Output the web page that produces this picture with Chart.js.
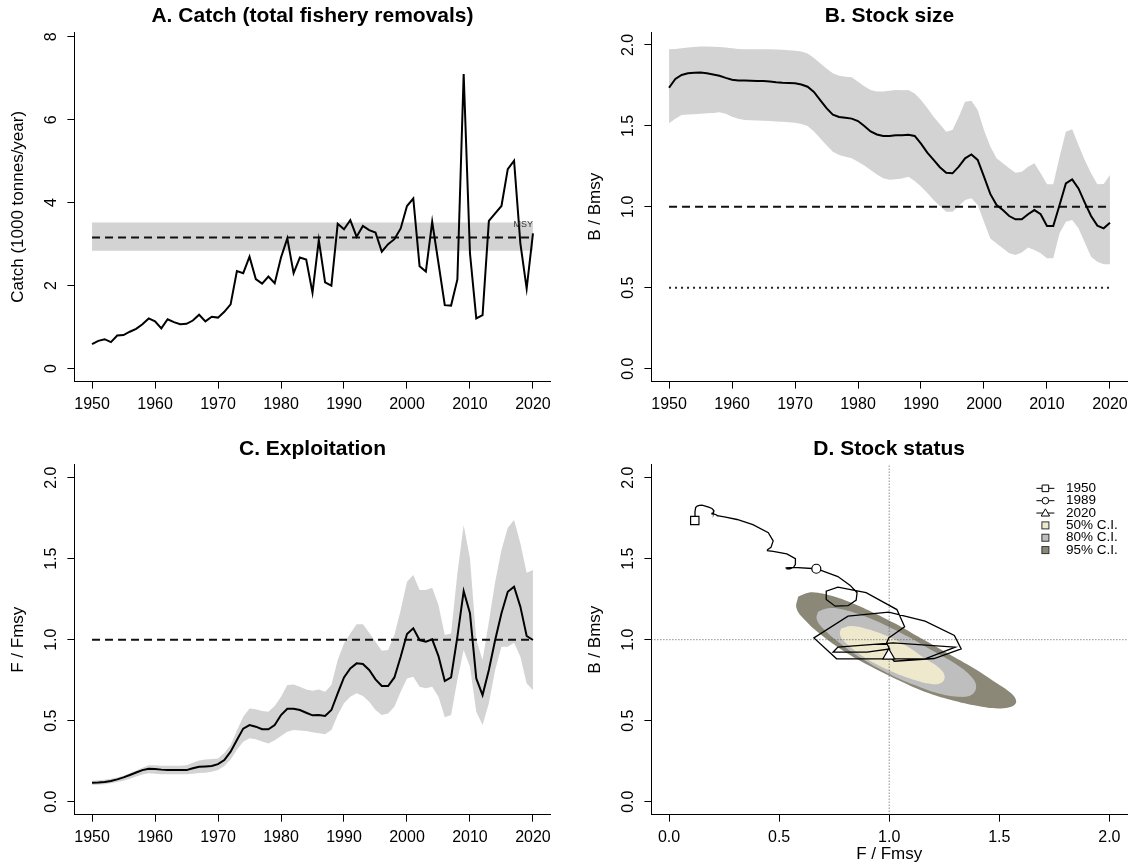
<!DOCTYPE html>
<html>
<head>
<meta charset="utf-8">
<title>Stock assessment summary</title>
<script src="https://cdn.jsdelivr.net/npm/chart.js@4.4.1/dist/chart.umd.min.js"></script>
<style>
  html, body { margin: 0; padding: 0; background: #fff; }
  #wrap { position: relative; width: 1135px; height: 864px; overflow: hidden; }
  #wrap canvas { position: absolute; }
</style>
</head>
<body>
<div id="wrap">
  <canvas id="panelA" width="567" height="432" style="left:0;top:0"></canvas>
  <canvas id="panelB" width="568" height="432" style="left:567px;top:0"></canvas>
  <canvas id="panelC" width="567" height="432" style="left:0;top:432px"></canvas>
  <canvas id="panelD" width="568" height="432" style="left:567px;top:432px"></canvas>
</div>
<script>
// ---------------- data ----------------
const years = [
  1950, 1951, 1952, 1953, 1954, 1955, 1956, 1957, 1958, 1959,
  1960, 1961, 1962, 1963, 1964, 1965, 1966, 1967, 1968, 1969,
  1970, 1971, 1972, 1973, 1974, 1975, 1976, 1977, 1978, 1979,
  1980, 1981, 1982, 1983, 1984, 1985, 1986, 1987, 1988, 1989,
  1990, 1991, 1992, 1993, 1994, 1995, 1996, 1997, 1998, 1999,
  2000, 2001, 2002, 2003, 2004, 2005, 2006, 2007, 2008, 2009,
  2010, 2011, 2012, 2013, 2014, 2015, 2016, 2017, 2018, 2019,
  2020
];

// total removals, 1000 tonnes per year
const catchK = [
  0.59, 0.67, 0.71, 0.64, 0.80, 0.81, 0.89, 0.96, 1.07, 1.21,
  1.14, 0.97, 1.19, 1.12, 1.07, 1.08, 1.16, 1.30, 1.14, 1.25,
  1.23, 1.37, 1.55, 2.35, 2.30, 2.70, 2.16, 2.05, 2.22, 2.06,
  2.68, 3.14, 2.30, 2.68, 2.63, 1.83, 3.10, 2.08, 2.00, 3.49,
  3.36, 3.58, 3.18, 3.44, 3.34, 3.28, 2.82, 3.00, 3.12, 3.38,
  3.92, 4.10, 2.47, 2.34, 3.54, 2.54, 1.53, 1.52, 2.15, 7.10,
  2.78, 1.21, 1.29, 3.56, 3.74, 3.92, 4.81, 5.01, 3.02, 1.93,
  3.26
];

// MSY estimate with its range (1000 t)
const msy = 3.16;
const msyLow = 2.84;
const msyHigh = 3.52;

// relative biomass B/Bmsy: median and interval bounds
const bRatio = [
  1.736, 1.790, 1.815, 1.825, 1.829, 1.830, 1.825, 1.818, 1.810, 1.797,
  1.785, 1.781, 1.780, 1.779, 1.778, 1.777, 1.775, 1.770, 1.767, 1.765,
  1.763, 1.756, 1.742, 1.710, 1.660, 1.610, 1.570, 1.555, 1.550, 1.545,
  1.530, 1.500, 1.466, 1.447, 1.438, 1.438, 1.442, 1.443, 1.446, 1.438,
  1.390, 1.335, 1.290, 1.245, 1.210, 1.207, 1.248, 1.300, 1.324, 1.290,
  1.186, 1.080, 1.011, 0.980, 0.943, 0.923, 0.923, 0.954, 0.980, 0.954,
  0.882, 0.882, 1.011, 1.145, 1.170, 1.114, 1.026, 0.943, 0.884, 0.867,
  0.902
];
const bRatioHigh = [
  1.973, 1.975, 1.980, 1.985, 1.988, 1.990, 1.990, 1.989, 1.988, 1.985,
  1.980, 1.976, 1.973, 1.974, 1.973, 1.974, 1.973, 1.972, 1.970, 1.968,
  1.965, 1.960, 1.948, 1.920, 1.887, 1.855, 1.825, 1.810, 1.804, 1.800,
  1.773, 1.745, 1.722, 1.712, 1.712, 1.718, 1.722, 1.720, 1.722, 1.700,
  1.660, 1.610, 1.557, 1.510, 1.464, 1.475, 1.557, 1.650, 1.656, 1.598,
  1.475, 1.372, 1.300, 1.269, 1.238, 1.211, 1.217, 1.248, 1.269, 1.207,
  1.139, 1.139, 1.310, 1.464, 1.479, 1.382, 1.289, 1.207, 1.139, 1.141,
  1.197
];
const bRatioLow = [
  1.516, 1.545, 1.567, 1.570, 1.572, 1.575, 1.578, 1.580, 1.584, 1.575,
  1.557, 1.545, 1.537, 1.535, 1.533, 1.532, 1.530, 1.527, 1.525, 1.522,
  1.520, 1.512, 1.500, 1.465, 1.423, 1.380, 1.341, 1.320, 1.310, 1.300,
  1.279, 1.255, 1.228, 1.200, 1.176, 1.168, 1.170, 1.175, 1.186, 1.160,
  1.125, 1.085, 1.042, 1.005, 0.970, 0.970, 1.005, 1.042, 1.053, 1.011,
  0.908, 0.805, 0.774, 0.744, 0.713, 0.702, 0.717, 0.748, 0.733, 0.713,
  0.682, 0.682, 0.836, 0.908, 0.919, 0.867, 0.779, 0.692, 0.661, 0.645,
  0.645
];

// relative exploitation F/Fmsy: median and interval bounds
const fRatio = [
  0.117, 0.118, 0.121, 0.128, 0.138, 0.150, 0.165, 0.180, 0.195, 0.204,
  0.202, 0.198, 0.195, 0.195, 0.195, 0.195, 0.206, 0.216, 0.218, 0.220,
  0.232, 0.257, 0.309, 0.381, 0.451, 0.473, 0.463, 0.447, 0.447, 0.473,
  0.535, 0.574, 0.574, 0.566, 0.549, 0.533, 0.535, 0.529, 0.566, 0.669,
  0.767, 0.823, 0.854, 0.850, 0.813, 0.755, 0.714, 0.714, 0.767, 0.895,
  1.035, 1.070, 0.998, 0.988, 1.002, 0.899, 0.745, 0.767, 1.018, 1.300,
  1.163, 0.761, 0.658, 0.813, 0.998, 1.163, 1.296, 1.327, 1.204, 1.023,
  0.998
];
const fRatioHigh = [
  0.130, 0.132, 0.135, 0.142, 0.150, 0.160, 0.175, 0.192, 0.210, 0.225,
  0.225, 0.222, 0.222, 0.222, 0.222, 0.225, 0.240, 0.255, 0.261, 0.263,
  0.267, 0.300, 0.350, 0.440, 0.525, 0.576, 0.570, 0.560, 0.556, 0.590,
  0.648, 0.720, 0.724, 0.710, 0.693, 0.685, 0.693, 0.679, 0.720, 0.874,
  0.977, 1.039, 1.095, 1.095, 1.043, 0.988, 0.932, 0.936, 1.029, 1.183,
  1.358, 1.399, 1.307, 1.307, 1.321, 1.214, 1.029, 1.039, 1.410, 1.708,
  1.502, 0.998, 0.874, 1.111, 1.358, 1.553, 1.691, 1.739, 1.595, 1.414,
  1.430
];
const fRatioLow = [
  0.103, 0.105, 0.108, 0.114, 0.122, 0.130, 0.142, 0.155, 0.168, 0.175,
  0.172, 0.170, 0.169, 0.169, 0.169, 0.169, 0.172, 0.177, 0.179, 0.185,
  0.195, 0.220, 0.261, 0.320, 0.370, 0.391, 0.385, 0.372, 0.360, 0.380,
  0.405, 0.432, 0.442, 0.440, 0.436, 0.428, 0.422, 0.416, 0.442, 0.535,
  0.607, 0.648, 0.669, 0.652, 0.617, 0.566, 0.535, 0.545, 0.586, 0.679,
  0.761, 0.772, 0.710, 0.700, 0.710, 0.648, 0.521, 0.535, 0.751, 0.936,
  0.833, 0.556, 0.473, 0.607, 0.813, 0.957, 0.957, 0.981, 0.895, 0.730,
  0.689
];

// reference levels
const bmsyLevel = 1.0;
const halfBmsyLevel = 0.5;
const fmsyLevel = 1.0;

// confidence regions of the final-year status (outline vertices, F/Fmsy vs B/Bmsy)
const ci95F = [0.586, 0.632, 0.677, 0.753, 0.828, 0.919, 1.025, 1.131, 1.252, 1.373, 1.478, 1.554,
               1.577, 1.554, 1.494, 1.403, 1.282, 1.161, 1.040, 0.919, 0.798, 0.692, 0.617, 0.579];
const ci95B = [1.265, 1.290, 1.290, 1.265, 1.228, 1.173, 1.101, 1.019, 0.926, 0.833, 0.741, 0.669,
               0.617, 0.586, 0.576, 0.591, 0.628, 0.679, 0.751, 0.833, 0.926, 1.029, 1.122, 1.194];
const ci80F = [0.677, 0.723, 0.783, 0.874, 0.980, 1.085, 1.191, 1.297, 1.373, 1.395,
               1.373, 1.312, 1.221, 1.116, 0.995, 0.874, 0.768, 0.692, 0.670];
const ci80B = [1.173, 1.194, 1.188, 1.152, 1.091, 1.019, 0.936, 0.854, 0.772, 0.710,
               0.659, 0.648, 0.669, 0.720, 0.792, 0.885, 0.988, 1.080, 1.132];
const ci50F = [0.783, 0.828, 0.904, 0.995, 1.085, 1.161, 1.229, 1.252,
               1.237, 1.191, 1.116, 1.025, 0.934, 0.851, 0.790, 0.776];
const ci50B = [1.070, 1.085, 1.064, 1.019, 0.957, 0.885, 0.823, 0.772,
               0.735, 0.727, 0.751, 0.796, 0.854, 0.926, 0.998, 1.039];

// highlighted years on the status trajectory and legend entries
const markedYears = [1950, 1989, 2020];
const ciLabels = ['50% C.I.', '80% C.I.', '95% C.I.'];

// axis ticks
const yearTicks = [1950, 1960, 1970, 1980, 1990, 2000, 2010, 2020];
const yearTickLabels = ['1950', '1960', '1970', '1980', '1990', '2000', '2010', '2020'];
const catchTicks = [0, 2, 4, 6, 8];
const catchTickLabels = ['0', '2', '4', '6', '8'];
const ratioTicks = [0, 0.5, 1, 1.5, 2];
const ratioTickLabels = ['0.0', '0.5', '1.0', '1.5', '2.0'];

// ---------------- styling ----------------
const FONT = "'Liberation Sans', Arial, Helvetica, sans-serif";
const INK = '#000';
const BAND = '#d3d3d3';
const CI_COLORS = ['#eee8cd', '#bebebe', '#8b8878'];   // 50 / 80 / 95 %
const TITLE_PX = 21;
const LABEL_PX = 17;
const TICK_PX = 16;

const measureCtx = document.createElement('canvas').getContext('2d');
function textWidth(s, px) { measureCtx.font = px + 'px ' + FONT; return measureCtx.measureText(s).width; }

function pts(xs, ys) { return xs.map((x, i) => ({ x: x, y: ys[i] })); }
function closed(a) { return a.concat([a[0]]); }
function yearSpan(v) { return pts([years[0], years[years.length - 1]], [v, v]); }

function line(data, extra) {
  return Object.assign({
    data: data, borderColor: INK, borderWidth: 2, pointRadius: 0,
    fill: false, tension: 0, order: 1
  }, extra || {});
}

function axisX(o) {
  return {
    type: 'linear', position: 'bottom', min: o.min, max: o.max,
    afterBuildTicks: s => { s.ticks = o.ticks.map(v => ({ value: v })); },
    afterFit: s => { s.height = o.height; },
    ticks: {
      autoSkip: false, minRotation: 0, maxRotation: 0, padding: 6.5, color: INK,
      font: { family: FONT, size: TICK_PX },
      callback: v => o.labels[o.ticks.indexOf(v)]
    },
    grid: { drawOnChartArea: false, drawTicks: true, tickLength: 7, color: INK, lineWidth: 1 },
    border: { display: true, color: INK, width: 1 },
    title: o.title ? {
      display: true, text: o.title, color: INK,
      font: { family: FONT, size: LABEL_PX, lineHeight: 1 }, padding: { top: 0, bottom: 1.5 }
    } : { display: false }
  };
}

function axisY(o) {
  const widest = Math.max.apply(null, o.labels.map(s => textWidth(s, TICK_PX)));
  return {
    type: 'linear', position: 'left', min: o.min, max: o.max,
    afterBuildTicks: s => { s.ticks = o.ticks.map(v => ({ value: v })); },
    afterFit: s => { s.width = o.width; },
    ticks: {
      autoSkip: false, minRotation: 90, maxRotation: 90, crossAlign: 'center',
      padding: 15.5 - widest / 2, color: INK, font: { family: FONT, size: TICK_PX },
      callback: v => o.labels[o.ticks.indexOf(v)]
    },
    grid: { drawOnChartArea: false, drawTicks: true, tickLength: 7, color: INK, lineWidth: 1 },
    border: { display: true, color: INK, width: 1 },
    title: {
      display: true, text: o.title, color: INK,
      font: { family: FONT, size: LABEL_PX, lineHeight: 1.2 }, padding: { top: o.titlePad, bottom: 0 }
    }
  };
}

function panel(id, o) {
  return new Chart(document.getElementById(id), {
    type: 'line',
    data: { datasets: o.datasets },
    options: {
      responsive: false, animation: false, devicePixelRatio: 1, events: [],
      layout: { padding: { left: 0, right: o.padRight, top: 0, bottom: 0 } },
      plugins: {
        legend: { display: false },
        tooltip: { enabled: false },
        title: {
          display: true, text: o.title, fullSize: false, color: INK,
          font: { family: FONT, size: TITLE_PX, weight: 'bold', lineHeight: 1 },
          padding: { top: o.titleTop, bottom: o.titleBottom }
        }
      },
      scales: { x: o.x, y: o.y }
    },
    plugins: o.plugins || []
  });
}

// small "MSY" tag at the end of the MSY band
const msyTag = {
  id: 'msyTag',
  afterDatasetsDraw(chart) {
    const { ctx, scales: { x, y } } = chart;
    ctx.save();
    ctx.font = '9px ' + FONT;
    ctx.fillStyle = '#333';
    ctx.textAlign = 'right';
    ctx.textBaseline = 'middle';
    ctx.fillText('MSY', x.getPixelForValue(years[years.length - 1]), y.getPixelForValue(msyHigh) + 2);
    ctx.restore();
  }
};

// legend of the status panel
function drawMarker(ctx, shape, x, y, r) {
  ctx.beginPath();
  if (shape === 'rect') {
    ctx.rect(x - r, y - r, 2 * r, 2 * r);
  } else if (shape === 'circle') {
    ctx.arc(x, y, r, 0, Math.PI * 2);
  } else {
    ctx.moveTo(x, y - r * 1.05);
    ctx.lineTo(x + r * 1.05, y + r * 0.75);
    ctx.lineTo(x - r * 1.05, y + r * 0.75);
    ctx.closePath();
  }
  ctx.fillStyle = '#fff';
  ctx.fill();
  ctx.stroke();
}
const statusLegend = {
  id: 'statusLegend',
  afterDraw(chart) {
    const { ctx, chartArea: a } = chart;
    const sx = a.right - 81.6, tx = a.right - 61, y0 = a.top + 23.6, dy = 12.35;
    const shapes = ['rect', 'circle', 'triangle'];
    ctx.save();
    ctx.font = '13.5px ' + FONT;
    ctx.textAlign = 'left';
    ctx.textBaseline = 'middle';
    ctx.strokeStyle = INK;
    ctx.lineWidth = 1;
    markedYears.forEach((yr, i) => {
      const y = y0 + i * dy;
      ctx.beginPath(); ctx.moveTo(sx - 9, y); ctx.lineTo(sx + 9, y); ctx.stroke();
      drawMarker(ctx, shapes[i], sx, y, i === 2 ? 4 : 3.3);
      ctx.fillStyle = INK;
      ctx.fillText(String(yr), tx, y);
    });
    ciLabels.forEach((lab, i) => {
      const y = y0 + (i + 3) * dy;
      ctx.fillStyle = CI_COLORS[i];
      ctx.strokeStyle = '#333';
      ctx.fillRect(sx - 3.5, y - 3.5, 7, 7);
      ctx.strokeRect(sx - 3.5, y - 3.5, 7, 7);
      ctx.fillStyle = INK;
      ctx.fillText(lab, tx, y);
    });
    ctx.restore();
  }
};

// ---------------- A. Catch ----------------
panel('panelA', {
  title: 'A. Catch (total fishery removals)', titleTop: 5.5, titleBottom: 5.55, padRight: 16.4,
  x: axisX({ min: 1947.2, max: 2022.8, ticks: yearTicks, labels: yearTickLabels, height: 50.4 }),
  y: axisY({ min: -0.312, max: 8.112, ticks: catchTicks, labels: catchTickLabels, width: 74.4,
             title: 'Catch (1000 tonnes/year)', titlePad: 8.2 }),
  datasets: [
    line(yearSpan(msyHigh), { borderWidth: 0, borderColor: 'transparent', fill: '+1', backgroundColor: BAND, order: 10 }),
    line(yearSpan(msyLow), { borderWidth: 0, borderColor: 'transparent', order: 9 }),
    line(yearSpan(msy), { borderDash: [8, 5], borderColor: '#111', order: 3 }),
    line(pts(years, catchK), { order: 1 })
  ],
  plugins: [msyTag]
});

// ---------------- B. Stock size ----------------
panel('panelB', {
  title: 'B. Stock size', titleTop: 5.5, titleBottom: 5.55, padRight: 7.4,
  x: axisX({ min: 1947.2, max: 2022.8, ticks: yearTicks, labels: yearTickLabels, height: 50.4 }),
  y: axisY({ min: -0.08, max: 2.08, ticks: ratioTicks, labels: ratioTickLabels, width: 84.4,
             title: 'B / Bmsy', titlePad: 18.2 }),
  datasets: [
    line(pts(years, bRatioHigh), { borderWidth: 0, borderColor: 'transparent', fill: '+1', backgroundColor: BAND, order: 10 }),
    line(pts(years, bRatioLow), { borderWidth: 0, borderColor: 'transparent', order: 9 }),
    line(yearSpan(bmsyLevel), { borderDash: [8, 5], borderColor: '#111', order: 3 }),
    line(yearSpan(halfBmsyLevel), { borderDash: [2, 4], borderColor: '#222', order: 3 }),
    line(pts(years, bRatio), { order: 1 })
  ]
});

// ---------------- C. Exploitation ----------------
panel('panelC', {
  title: 'C. Exploitation', titleTop: 6.8, titleBottom: 4.94, padRight: 16.4,
  x: axisX({ min: 1947.2, max: 2022.8, ticks: yearTicks, labels: yearTickLabels, height: 49.34 }),
  y: axisY({ min: -0.08, max: 2.08, ticks: ratioTicks, labels: ratioTickLabels, width: 74.4,
             title: 'F / Fmsy', titlePad: 8.2 }),
  datasets: [
    line(pts(years, fRatioHigh), { borderWidth: 0, borderColor: 'transparent', fill: '+1', backgroundColor: BAND, order: 10 }),
    line(pts(years, fRatioLow), { borderWidth: 0, borderColor: 'transparent', order: 9 }),
    line(yearSpan(fmsyLevel), { borderDash: [8, 5], borderColor: '#111', order: 3 }),
    line(pts(years, fRatio), { order: 1 })
  ]
});

// ---------------- D. Stock status ----------------
const statusMin = -0.08, statusMax = 2.08;
const markerStyles = ['rect', 'circle', 'triangle'];
const markerSizes = [5.9, 4.5, 6.8];
const markerSets = markedYears.map((yr, i) => {
  const k = years.indexOf(yr);
  return {
    data: [{ x: fRatio[k], y: bRatio[k] }], showLine: false, borderWidth: 0,
    pointStyle: markerStyles[i], pointRadius: markerSizes[i],
    pointBackgroundColor: '#fff', pointBorderColor: INK, pointBorderWidth: 1.2, order: 0
  };
});

panel('panelD', {
  title: 'D. Stock status', titleTop: 6.8, titleBottom: 4.94, padRight: 7.4,
  x: axisX({ min: statusMin, max: statusMax, ticks: ratioTicks, labels: ratioTickLabels, height: 49.34,
             title: 'F / Fmsy' }),
  y: axisY({ min: statusMin, max: statusMax, ticks: ratioTicks, labels: ratioTickLabels, width: 84.4,
             title: 'B / Bmsy', titlePad: 18.2 }),
  datasets: [
    line(pts(closed(ci95F), closed(ci95B)), { borderWidth: 0, borderColor: 'transparent', fill: 'shape', backgroundColor: CI_COLORS[2], tension: 0.4, order: 20 }),
    line(pts(closed(ci80F), closed(ci80B)), { borderWidth: 0, borderColor: 'transparent', fill: 'shape', backgroundColor: CI_COLORS[1], tension: 0.4, order: 19 }),
    line(pts(closed(ci50F), closed(ci50B)), { borderWidth: 0, borderColor: 'transparent', fill: 'shape', backgroundColor: CI_COLORS[0], tension: 0.4, order: 18 }),
    line(pts([fmsyLevel, fmsyLevel], [statusMin, statusMax]), { borderWidth: 1, borderColor: '#555', borderDash: [1, 2], order: 5 }),
    line(pts([statusMin, statusMax], [bmsyLevel, bmsyLevel]), { borderWidth: 1, borderColor: '#555', borderDash: [1, 2], order: 5 }),
    line(pts(fRatio, bRatio), { borderWidth: 1.3, order: 2 })
  ].concat(markerSets),
  plugins: [statusLegend]
});
</script>
</body>
</html>
